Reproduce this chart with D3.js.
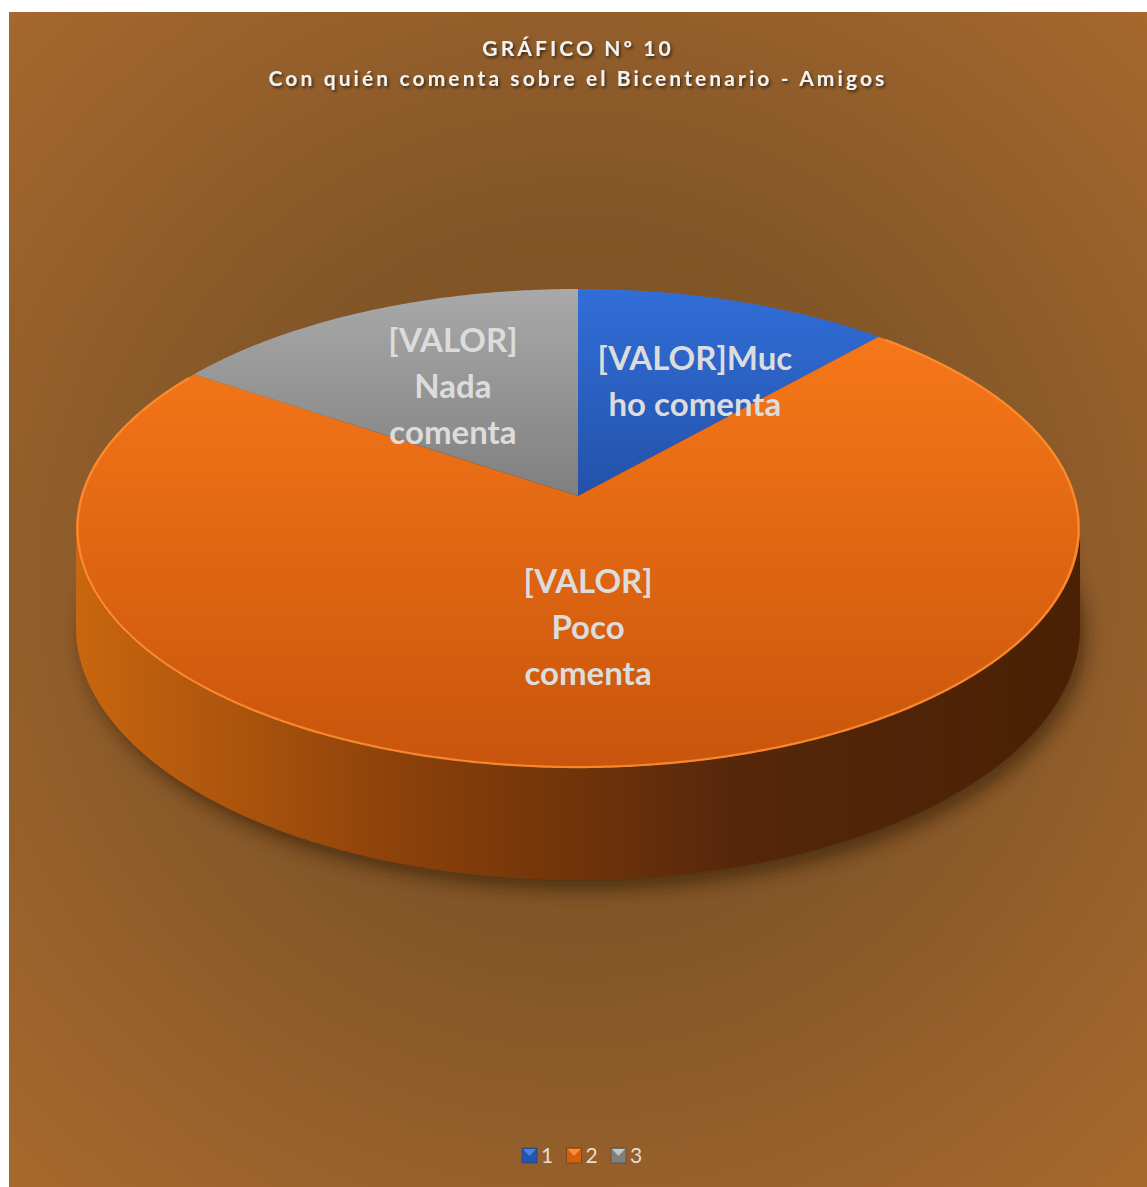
<!DOCTYPE html>
<html>
<head>
<meta charset="utf-8">
<script src="https://cdn.jsdelivr.net/npm/d3@7/dist/d3.min.js"></script>
<style>
  html, body { margin: 0; padding: 0; background: #ffffff; }
  svg { display: block; }
</style>
</head>
<body>
<svg id="chart" width="1147" height="1187"></svg>
<script>
// Chart data
const titleLines = ["GRÁFICO Nº 10", "Con quién comenta sobre el Bicentenario - Amigos"];
const categories = ["Mucho comenta", "Poco comenta", "Nada comenta"];
const legendKeys = ["1", "2", "3"];
const values = [11.6, 72.8, 15.6];
const labelLines = [
  ["[VALOR]Muc", "ho comenta"],
  ["[VALOR]", "Poco", "comenta"],
  ["[VALOR]", "Nada", "comenta"]
];

const svg = d3.select("#chart");
const W = 1147, H = 1187;
const frame = { x: 9, y: 12, w: W - 9, h: H - 12 };

const defs = svg.append("defs");

// background vignette
const bg = defs.append("radialGradient").attr("id", "bgGrad")
  .attr("gradientUnits", "userSpaceOnUse")
  .attr("cx", 578).attr("cy", 580).attr("r", 820);
bg.append("stop").attr("offset", 0).attr("stop-color", "#7a4f25");
bg.append("stop").attr("offset", 0.45).attr("stop-color", "#835628");
bg.append("stop").attr("offset", 0.8).attr("stop-color", "#9a622c");
bg.append("stop").attr("offset", 1).attr("stop-color", "#a6692b");

svg.append("rect")
  .attr("x", frame.x).attr("y", frame.y)
  .attr("width", frame.w).attr("height", frame.h)
  .attr("fill", "url(#bgGrad)");

// slice fills (top faces)
const topColors = [
  ["#316ed8", "#2350a6"],
  ["#fb7b1a", "#c8550c"],
  ["#a9a9a9", "#7d7d7d"]
];
topColors.forEach((c, i) => {
  const g = defs.append("linearGradient").attr("id", "top" + i)
    .attr("gradientUnits", "userSpaceOnUse")
    .attr("x1", 0).attr("y1", 290).attr("x2", 0).attr("y2", 770);
  g.append("stop").attr("offset", 0).attr("stop-color", c[0]);
  g.append("stop").attr("offset", i === 1 ? 1 : 0.45).attr("stop-color", c[1]);
});

// side wall shading
const wallStops = [
  ["#2a5cb8", "#12306a"],
  ["#c9660f", "#8a400a", "#55260a", "#4a2104"],
  ["#8e8e8e", "#4a4a4a"]
];
wallStops.forEach((cols, i) => {
  const g = defs.append("linearGradient").attr("id", "wall" + i)
    .attr("gradientUnits", "userSpaceOnUse")
    .attr("x1", 78).attr("y1", 0).attr("x2", 1080).attr("y2", 0);
  cols.forEach((c, j) => g.append("stop")
    .attr("offset", j / (cols.length - 1)).attr("stop-color", c));
});

const blur = defs.append("filter").attr("id", "shadowBlur")
  .attr("x", "-20%").attr("y", "-20%").attr("width", "140%").attr("height", "140%");
blur.append("feGaussianBlur").attr("stdDeviation", 9);

const txtShadow = defs.append("filter").attr("id", "textShadow")
  .attr("x", "-10%").attr("y", "-50%").attr("width", "120%").attr("height", "200%");
txtShadow.append("feDropShadow").attr("dx", 1.5).attr("dy", 2)
  .attr("stdDeviation", 1.5).attr("flood-color", "#000").attr("flood-opacity", 0.6);

// perspective projection of the pie disc
const P = { cx: 578, cy: 496, A: 497.4, B: 235.1, k: 0.1357, depth: 96.8 };
function proj(theta, r, z) {
  const u = r * Math.sin(theta), v = r * Math.cos(theta);
  const w = 1 + P.k * v;
  return [P.cx + P.A * u / w, P.cy - P.B * v / w + z * P.depth / w];
}
function arcPoints(a0, a1, r, z) {
  const n = Math.max(2, Math.ceil(Math.abs(a1 - a0) / (Math.PI / 360)));
  return d3.range(n + 1).map(i => proj(a0 + (a1 - a0) * i / n, r, z));
}

const pie = d3.pie().sort(null).value(d => d)
  .startAngle(0).endAngle(2 * Math.PI);
const arcs = pie(values);

const line = d3.line();

// shadow cast beneath the pie
const shadowPts = arcPoints(0, 2 * Math.PI, 1, 1).map(p => [p[0] + 6, p[1] + 10]);
svg.append("path")
  .attr("d", line(shadowPts) + "Z")
  .attr("fill", "#2a1505").attr("opacity", 0.55)
  .attr("filter", "url(#shadowBlur)");

// visible front wall (silhouette where the rim is widest)
const sil = Math.acos(-P.k);
const wallLo = sil, wallHi = 2 * Math.PI - sil;
const gWall = svg.append("g");
arcs.forEach((a, i) => {
  const s = Math.max(a.startAngle, wallLo), e = Math.min(a.endAngle, wallHi);
  if (e <= s) return;
  const pts = arcPoints(s, e, 1, 0).concat(arcPoints(e, s, 1, 1));
  gWall.append("path").attr("d", line(pts) + "Z")
    .attr("fill", "url(#wall" + i + ")");
});

// top faces
const gTop = svg.append("g");
arcs.forEach((a, i) => {
  const pts = [[P.cx, P.cy]].concat(arcPoints(a.startAngle, a.endAngle, 1, 0));
  gTop.append("path").attr("d", line(pts) + "Z")
    .attr("fill", "url(#top" + i + ")");
});

// bevel highlight along the front rim
arcs.forEach((a, i) => {
  if (i !== 1) return;
  gTop.append("path")
    .attr("d", line(arcPoints(a.startAngle + 0.02, a.endAngle - 0.02, 0.997, 0)))
    .attr("fill", "none").attr("stroke", "#ff8f33")
    .attr("stroke-width", 2.2).attr("opacity", 0.85);
});

// data labels
const labelAnchor = [
  { r: 0.62, dx: 15, dy: 11 },
  { r: 0.55, dx: -27, dy: -7 },
  { r: 0.6, dx: 6, dy: 6 }
];
const labelSize = 33, labelLead = 46;
arcs.forEach((a, i) => {
  const mid = (a.startAngle + a.endAngle) / 2;
  const c = proj(mid, labelAnchor[i].r, 0);
  const lines = labelLines[i];
  const x = c[0] + labelAnchor[i].dx;
  const y0 = c[1] + labelAnchor[i].dy - (lines.length - 1) * labelLead / 2 + labelSize * 0.36;
  const t = svg.append("text")
    .attr("text-anchor", "middle")
    .attr("font-family", "Lato, 'Noto Sans', sans-serif")
    .attr("font-weight", 700)
    .attr("font-size", labelSize)
    .attr("fill", "#dcdcdc");
  lines.forEach((s, j) => t.append("tspan")
    .attr("x", x).attr("y", y0 + j * labelLead).text(s));
});

// title
const title = svg.append("text")
  .attr("text-anchor", "middle")
  .attr("font-family", "Lato, 'Noto Sans', sans-serif")
  .attr("font-weight", 700)
  .attr("font-size", 21)
  .attr("letter-spacing", 3.1)
  .attr("fill", "#f2f2f2")
  .attr("filter", "url(#textShadow)");
titleLines.forEach((s, j) => title.append("tspan")
  .attr("x", 578).attr("y", 56 + j * 30).text(s));

// legend
const legendColors = [
  ["#2856ad", "#4c84de"],
  ["#d2600f", "#f7903a"],
  ["#7f7f7f", "#c4c4c4"]
];
const legendX = d3.scalePoint().domain(legendKeys).range([522, 611]);
const gLeg = svg.append("g");
legendKeys.forEach((k, i) => {
  const x = legendX(k), y = 1148;
  const g = gLeg.append("g").attr("transform", `translate(${x},${y})`);
  g.append("rect").attr("width", 15).attr("height", 15)
    .attr("fill", legendColors[i][0]);
  g.append("path").attr("d", "M1,1 L14,1 L7.5,8 Z")
    .attr("fill", legendColors[i][1]);
  g.append("rect").attr("width", 15).attr("height", 15)
    .attr("fill", "none").attr("stroke", "#000").attr("stroke-opacity", 0.25);
  g.append("text").attr("x", 19).attr("y", 15)
    .attr("font-family", "Lato, 'Noto Sans', sans-serif")
    .attr("font-size", 21).attr("fill", "#e6ddd3").text(k);
});
</script>
</body>
</html>
